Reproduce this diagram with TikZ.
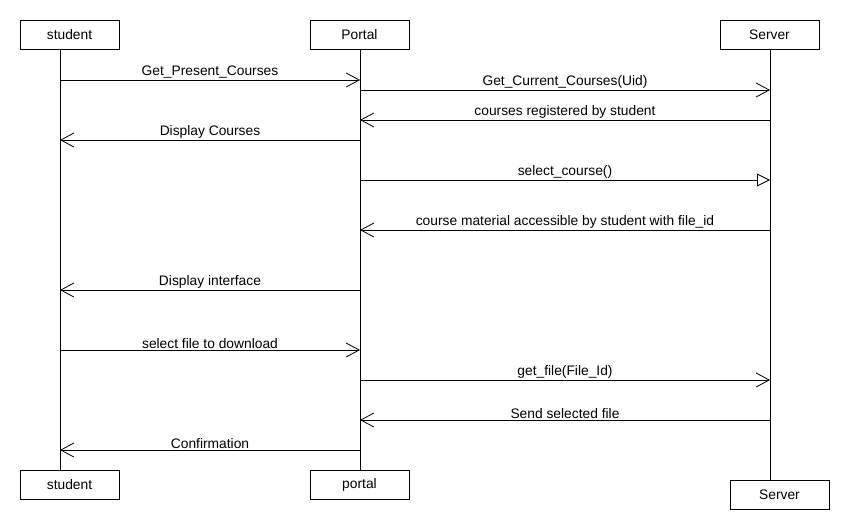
\documentclass[tikz,border=0pt]{standalone}
\usepackage{fontspec}
\setmainfont{Liberation Sans}
\usetikzlibrary{arrows.meta}
\begin{document}
\begin{tikzpicture}[x=1pt,y=-1pt,line width=1pt,
  obj/.style={draw,minimum width=99pt,minimum height=29pt,inner sep=0pt,font=\fontsize{13.8}{15}\selectfont},
  msg/.style={-{Straight Barb[length=13pt,width=14pt,line width=0.8pt]}},
  call/.style={-{Triangle[open,length=13pt,width=13pt,line width=0.9pt]}},
  lbl/.style={font=\fontsize{13.8}{15}\selectfont,inner sep=1.2pt,anchor=south}]
\useasboundingbox (0,0) rectangle (850,530);
\fill[white] (0,0) rectangle (850,530);
% objects
\node[obj] (st) at (69.5,34.5) {student};
\node[obj] (po) at (359.5,34.5) {Portal};
\node[obj] (se) at (769.5,34.5) {Server};
\node[obj] (stb) at (69.5,485) {student};
\node[obj] (pob) at (359.5,485) {portal};
\node[obj] (seb) at (779.5,494.5) {Server};
% lifelines
\coordinate (sA) at (60,49);  \coordinate (sB) at (60,471);
\coordinate (pA) at (360,49); \coordinate (pB) at (360,471);
\coordinate (vA) at (770,49); \coordinate (vB) at (770,480);
\draw (sA) -- (sB);
\draw (pA) -- (pB);
\draw (vA) -- (vB);
% message end points
\foreach \n/\y in {1/80,2/90,3/120,4/140,5/180,6/230,7/290,8/350,9/380,10/420,11/450}{
  \coordinate (s\n) at (60,\y);
  \coordinate (p\n) at (360,\y);
  \coordinate (v\n) at (770,\y);
}
\draw[msg] (s1) -- node[lbl]{Get\_Present\_Courses} (p1);
\draw[msg] (p2) -- node[lbl]{Get\_Current\_Courses(Uid)} (v2);
\draw[msg] (v3) -- node[lbl]{courses registered by student} (p3);
\draw[msg] (p4) -- node[lbl]{Display Courses} (s4);
\draw[call] (p5) -- node[lbl]{select\_course()} (v5);
\draw[msg] (v6) -- node[lbl]{course material accessible by student with file\_id} (p6);
\draw[msg] (p7) -- node[lbl]{Display interface} (s7);
\draw[msg] (s8) -- node[lbl]{select file to download} (p8);
\draw[msg] (p9) -- node[lbl]{get\_file(File\_Id)} (v9);
\draw[msg] (v10) -- node[lbl]{Send selected file} (p10);
\draw[msg] (p11) -- node[lbl]{Confirmation} (s11);
\end{tikzpicture}
\end{document}
